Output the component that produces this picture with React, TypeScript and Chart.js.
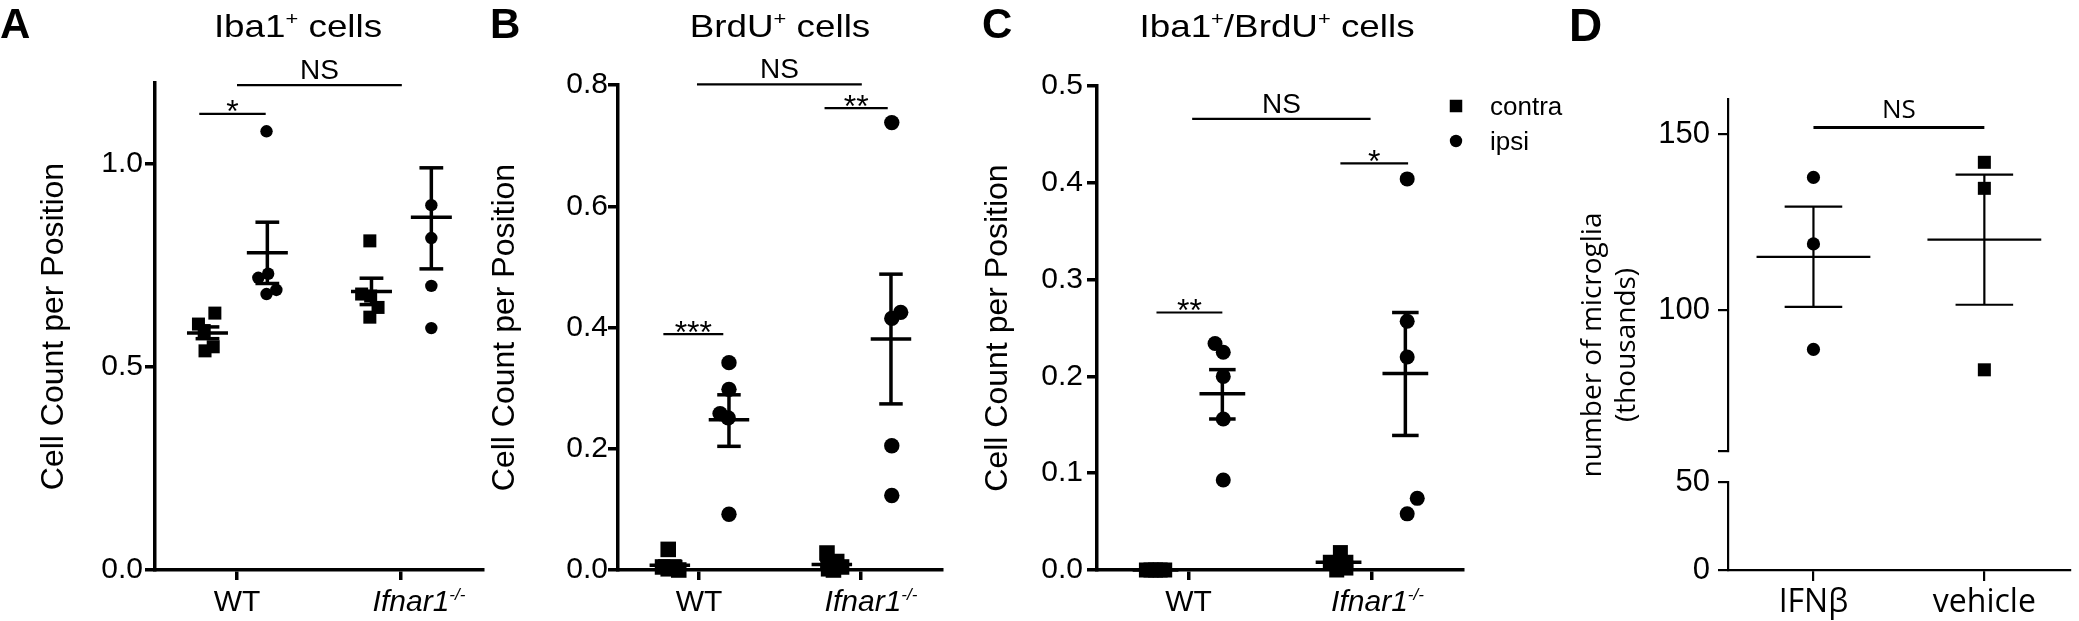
import React, { useEffect, useRef } from 'react';
import { Chart, registerables } from 'chart.js';

Chart.register(...registerables);

const W = 2079;
const H = 621;
const SANS = '"Liberation Sans", Arial, Helvetica, sans-serif';
const OPEN = '"Open Sans", "Noto Sans", sans-serif';

// ---------------- shared categories ----------------
const CAT_POS = [1, 3];
const SIDE_OFFSET = [-0.36, 0.37]; // contra, ipsi
const GROUP_CENTERS = [CAT_POS[0] + SIDE_OFFSET[0], CAT_POS[0] + SIDE_OFFSET[1], CAT_POS[1] + SIDE_OFFSET[0], CAT_POS[1] + SIDE_OFFSET[1]];
const LEGEND_LABELS = ['contra', 'ipsi'];

// ---------------- Panel A: Iba1+ cells ----------------
const A_Y_TICKS = [0, 0.5, 1.0];
const A_WT_CONTRA = [0.633, 0.606, 0.59, 0.55, 0.54];
const A_WT_CONTRA_JIT = [0.09, -0.11, -0.04, 0.07, -0.03];
const A_WT_IPSI = [1.081, 0.72, 0.73, 0.68, 0.69];
const A_WT_IPSI_JIT = [-0.01, -0.11, 0.01, -0.01, 0.11];
const A_KO_CONTRA = [0.811, 0.68, 0.675, 0.647, 0.623];
const A_KO_CONTRA_JIT = [-0.02, -0.12, -0.01, 0.08, -0.02];
const A_KO_IPSI = [0.899, 0.818, 0.7, 0.596];
const A_KO_IPSI_JIT = [0, 0, 0, 0];
const A_MEAN = [0.584, 0.782, 0.686, 0.869];
const A_SEM_HI = [0.599, 0.857, 0.719, 0.991];
const A_SEM_LO = [0.57, 0.706, 0.654, 0.742];
const A_SIG: [number, number, number, string][] = [
  [0.54, 1.35, 1.124, '*'],
  [1.0, 3.01, 1.195, 'NS'],
];

// ---------------- Panel B: BrdU+ cells ----------------
const B_Y_TICKS = [0, 0.2, 0.4, 0.6, 0.8];
const B_WT_CONTRA = [0.034, 0.005, 0.004, 0.002, 0.0];
const B_WT_CONTRA_JIT = [-0.02, -0.09, 0.06, -0.02, 0.11];
const B_WT_IPSI = [0.342, 0.298, 0.258, 0.251, 0.092];
const B_WT_IPSI_JIT = [0, 0, -0.11, -0.01, 0];
const B_KO_CONTRA = [0.028, 0.014, 0.005, 0.002, 0.0];
const B_KO_CONTRA_JIT = [-0.06, 0.06, 0.12, -0.04, 0.02];
const B_KO_IPSI = [0.738, 0.425, 0.415, 0.205, 0.123];
const B_KO_IPSI_JIT = [0.01, 0.12, 0.01, 0.01, 0.01];
const B_MEAN = [0.008, 0.248, 0.009, 0.381];
const B_SEM_HI = [0.015, 0.289, 0.015, 0.488];
const B_SEM_LO = [0.002, 0.204, 0.004, 0.274];
const B_SIG: [number, number, number, string][] = [
  [0.56, 1.3, 0.389, '***'],
  [0.975, 3.01, 0.801, 'NS'],
  [2.55, 3.33, 0.762, '**'],
];

// ---------------- Panel C: Iba1+/BrdU+ cells ----------------
const C_Y_TICKS = [0, 0.1, 0.2, 0.3, 0.4, 0.5];
const C_WT_CONTRA = [0, 0, 0, 0, 0];
const C_WT_CONTRA_JIT = [-0.1, -0.05, 0, 0.05, 0.1];
const C_WT_IPSI = [0.234, 0.225, 0.2, 0.156, 0.093];
const C_WT_IPSI_JIT = [-0.08, 0.01, 0.01, 0.01, 0.01];
const C_KO_CONTRA = [0.018, 0.008, 0.008, 0.002, 0.0];
const C_KO_CONTRA_JIT = [0.02, -0.09, 0.08, 0.08, -0.02];
const C_KO_IPSI = [0.404, 0.257, 0.22, 0.074, 0.058];
const C_KO_IPSI_JIT = [0.02, 0.02, 0.02, 0.13, 0.02];
const C_MEAN = [0, 0.182, 0.008, 0.203];
const C_SEM_HI = [0, 0.207, 0.012, 0.266];
const C_SEM_LO = [0, 0.156, 0.004, 0.139];
const C_SIG: [number, number, number, string][] = [
  [0.65, 1.37, 0.266, '**'],
  [1.04, 2.99, 0.466, 'NS'],
  [2.66, 3.4, 0.42, '*'],
];

// ---------------- Panel D: number of microglia ----------------
const D_CATS = ['IFNβ', 'vehicle'];
const D_TICKS_HI = [60, 100, 150];
const D_TICKS_LO = [0, 50];
const D_IFN = [137.7, 118.8, 88.8];
const D_VEH = [142.0, 134.6, 83.0];
const D_JIT = [0, 0, 0];
const D_MEAN = [115.1, 120.0];
const D_SEM_HI = [129.4, 138.5];
const D_SEM_LO = [100.9, 101.5];
const D_SIG: [number, number, number, string][] = [[1.0, 3.0, 151.9, 'NS']];

// ---------------- drawing helpers ----------------
type Seg = { t: string; it?: boolean; sup?: boolean; bold?: boolean };
type Area = { l: number; r: number; t: number; b: number };

function drawRich(
  ctx: CanvasRenderingContext2D,
  segs: Seg[],
  x: number,
  y: number,
  size: number,
  family: string,
  align: 'left' | 'center' | 'right',
  hs = 1
) {
  const supSize = Math.round(size * 0.58);
  const fontOf = (s: Seg) => `${s.it ? 'italic ' : ''}${s.bold ? 'bold ' : ''}${s.sup ? supSize : size}px ${family}`;
  const widths = segs.map((s) => {
    ctx.font = fontOf(s);
    return ctx.measureText(s.t).width;
  });
  const total = widths.reduce((a, b) => a + b, 0);
  ctx.save();
  ctx.translate(x, y);
  ctx.scale(hs, 1);
  let cx = align === 'center' ? -total / 2 : align === 'right' ? -total : 0;
  ctx.fillStyle = '#000';
  ctx.textAlign = 'left';
  ctx.textBaseline = 'alphabetic';
  segs.forEach((s, i) => {
    ctx.font = fontOf(s);
    ctx.fillText(s.t, cx, s.sup ? -size * 0.38 : 0);
    cx += widths[i];
  });
  ctx.restore();
}

function makeAnnot(o: any) {
  return {
    id: 'annot',
    afterDraw(chart: any) {
      const ctx = chart.ctx as CanvasRenderingContext2D;
      const xs = chart.scales.x;
      const ys = chart.scales[o.yId];
      const area = chart.chartArea;
      ctx.save();
      ctx.fillStyle = '#000';
      ctx.strokeStyle = '#000';
      drawRich(ctx, [{ t: o.letter, bold: true }], o.letterX, o.letterY, o.letterSize, SANS, 'left');
      if (o.title) drawRich(ctx, o.title, o.titleX, o.titleY, o.titleSize, SANS, 'center', o.titleHs);
      o.xLabels.forEach((segs: Seg[], i: number) => {
        drawRich(
          ctx,
          segs,
          xs.getPixelForValue(CAT_POS[i]) + (o.xLabelDx[i] || 0),
          area.bottom + o.xLabelDy,
          o.xLabelSize,
          o.xLabelFamily,
          'center'
        );
      });
      o.sig.forEach((s: [number, number, number, string]) => {
        const [x1, x2, yv, label] = s;
        const p1 = xs.getPixelForValue(x1);
        const p2 = xs.getPixelForValue(x2);
        const py = ys.getPixelForValue(yv);
        ctx.lineWidth = o.sigLw;
        ctx.lineCap = 'butt';
        ctx.beginPath();
        ctx.moveTo(p1, py);
        ctx.lineTo(p2, py);
        ctx.stroke();
        const star = label[0] === '*';
        drawRich(
          ctx,
          [{ t: label }],
          (p1 + p2) / 2,
          star ? py + o.starDy : py - o.nsDy,
          star ? o.starSize : o.nsSize,
          o.sigFamily,
          'center'
        );
      });
      if (o.legend) {
        const L = o.legend;
        LEGEND_LABELS.forEach((lab, i) => {
          const cy = L.y0 + i * L.dy;
          if (i === 0) {
            ctx.fillRect(L.mx - L.sq / 2, cy - L.sq / 2, L.sq, L.sq);
          } else {
            ctx.beginPath();
            ctx.arc(L.mx, cy, L.cr, 0, Math.PI * 2);
            ctx.fill();
          }
          drawRich(ctx, [{ t: lab }], L.tx, cy + L.textDy, L.size, SANS, 'left');
        });
      }
      if (o.yTitleLines) {
        ctx.font = `${o.yTitleSize}px ${o.yTitleFamily}`;
        ctx.textAlign = 'center';
        ctx.textBaseline = 'middle';
        o.yTitleLines.forEach((t: string, i: number) => {
          ctx.save();
          ctx.translate(o.yTitleX[i], o.yTitleY);
          ctx.rotate(-Math.PI / 2);
          ctx.fillText(t, 0, 0);
          ctx.restore();
        });
      }
      ctx.restore();
    },
  };
}

function pointDs(data: { x: number; y: number }[], style: string, r: number, yId: string) {
  return {
    data,
    showLine: false,
    pointStyle: style,
    pointRadius: r,
    pointHoverRadius: r,
    pointBackgroundColor: '#000',
    pointBorderColor: '#000',
    pointBorderWidth: 0,
    clip: false,
    yAxisID: yId,
  };
}

function segDs(x1: number, y1: number, x2: number, y2: number, lw: number, yId: string) {
  return {
    data: [
      { x: x1, y: y1 },
      { x: x2, y: y2 },
    ],
    showLine: true,
    borderColor: '#000',
    borderWidth: lw,
    borderCapStyle: 'butt',
    pointRadius: 0,
    pointHoverRadius: 0,
    clip: false,
    yAxisID: yId,
  };
}

type Series = { vals: number[]; jit: number[]; style: string };

function groupDatasets(
  series: Series[],
  centers: number[],
  means: number[],
  his: number[],
  los: number[],
  rRect: number,
  rCircle: number,
  meanHW: number,
  capHW: number,
  lw: number,
  yId: string
) {
  const ds: any[] = [];
  series.forEach((s, i) => {
    const c = centers[i];
    ds.push(
      pointDs(
        s.vals.map((v, k) => ({ x: c + s.jit[k], y: v })),
        s.style,
        s.style === 'rect' ? rRect : rCircle,
        yId
      )
    );
    ds.push(segDs(c - meanHW, means[i], c + meanHW, means[i], lw, yId));
    ds.push(segDs(c, los[i], c, his[i], lw, yId));
    ds.push(segDs(c - capHW, his[i], c + capHW, his[i], lw, yId));
    ds.push(segDs(c - capHW, los[i], c + capHW, los[i], lw, yId));
  });
  return ds;
}

function xScaleOpts(area: Area, lw: number, tickLen: number) {
  return {
    type: 'linear',
    position: 'bottom',
    min: 0,
    max: 4,
    afterBuildTicks: (s: any) => {
      s.ticks = CAT_POS.map((v) => ({ value: v }));
    },
    afterFit: (s: any) => {
      s.height = H - area.b;
    },
    ticks: { display: false },
    grid: { display: true, drawOnChartArea: false, drawTicks: true, tickLength: tickLen, color: '#000', lineWidth: lw },
    border: { display: true, color: '#000', width: lw },
  };
}

function yScaleOpts(
  area: Area,
  padL: number,
  min: number,
  max: number,
  ticks: number[],
  fmt: (v: number) => string,
  lw: number,
  tickPad: number,
  fontSize: number,
  title: string | null,
  extra: any = {}
) {
  return {
    type: 'linear',
    position: 'left',
    min,
    max,
    afterBuildTicks: (s: any) => {
      s.ticks = ticks.map((v) => ({ value: v }));
    },
    afterFit: (s: any) => {
      s.width = area.l - padL;
    },
    ticks: {
      display: true,
      autoSkip: false,
      padding: tickPad,
      color: '#000',
      font: { family: SANS, size: fontSize },
      callback: (v: any) => fmt(Number(v)),
    },
    grid: { display: true, drawOnChartArea: false, drawTicks: true, tickLength: 10, color: '#000', lineWidth: lw },
    border: { display: true, color: '#000', width: lw },
    title: title
      ? {
          display: true,
          text: title,
          color: '#000',
          font: { family: SANS, size: 32, lineHeight: 1 },
          padding: { top: 0, bottom: 0 },
        }
      : { display: false },
    ...extra,
  };
}

const IFNAR_LABEL: Seg[] = [
  { t: 'Ifnar1', it: true },
  { t: '-/-', it: true, sup: true },
];
const WT_LABEL: Seg[] = [{ t: 'WT' }];

function baseOptions(area: Area, padL: number, scales: any) {
  return {
    responsive: false,
    animation: false,
    events: [],
    layout: { padding: { left: padL, right: W - area.r, top: area.t, bottom: 0 } },
    scales,
    plugins: { legend: { display: false }, tooltip: { enabled: false }, title: { display: false } },
  };
}

type PanelSpec = {
  area: Area;
  yTitleCX: number;
  yMax: number;
  yTicks: number[];
  tickPad: number;
  series: Series[];
  mean: number[];
  hi: number[];
  lo: number[];
  rRect: number;
  rCircle: number;
  sig: [number, number, number, string][];
  letter: string;
  letterX: number;
  title: Seg[];
  titleX: number;
  ifnarDx: number;
  legend?: any;
};

function buildABC(p: PanelSpec) {
  const padL = p.yTitleCX - 16;
  const lw = 3.5;
  const datasets = groupDatasets(p.series, GROUP_CENTERS, p.mean, p.hi, p.lo, p.rRect, p.rCircle, 0.25, 0.145, lw, 'y');
  const options = baseOptions(p.area, padL, {
    x: xScaleOpts(p.area, lw, 10),
    y: yScaleOpts(p.area, padL, 0, p.yMax, p.yTicks, (v) => v.toFixed(1), lw, p.tickPad, 30, 'Cell Count per Position'),
  });
  return {
    type: 'scatter',
    data: { datasets },
    options,
    plugins: [
      makeAnnot({
        yId: 'y',
        letter: p.letter,
        letterX: p.letterX,
        letterY: 38,
        letterSize: 42,
        title: p.title,
        titleX: p.titleX,
        titleY: 37,
        titleSize: 32,
        titleHs: 1.15,
        xLabels: [WT_LABEL, IFNAR_LABEL],
        xLabelDx: [0, p.ifnarDx],
        xLabelDy: 41,
        xLabelSize: 30,
        xLabelFamily: SANS,
        sig: p.sig,
        sigLw: 2.2,
        sigFamily: SANS,
        nsSize: 28,
        nsDy: 6,
        starSize: 32,
        starDy: 8.5,
        legend: p.legend,
      }),
    ],
  };
}

function buildA() {
  return buildABC({
    area: { l: 155, r: 483, t: 83, b: 570 },
    yTitleCX: 54.5,
    yMax: 1.2,
    yTicks: A_Y_TICKS,
    tickPad: 2,
    series: [
      { vals: A_WT_CONTRA, jit: A_WT_CONTRA_JIT, style: 'rect' },
      { vals: A_WT_IPSI, jit: A_WT_IPSI_JIT, style: 'circle' },
      { vals: A_KO_CONTRA, jit: A_KO_CONTRA_JIT, style: 'rect' },
      { vals: A_KO_IPSI, jit: A_KO_IPSI_JIT, style: 'circle' },
    ],
    mean: A_MEAN,
    hi: A_SEM_HI,
    lo: A_SEM_LO,
    rRect: 9.2,
    rCircle: 6.2,
    sig: A_SIG,
    letter: 'A',
    letterX: 0,
    title: [{ t: 'Iba1' }, { t: '+', sup: true }, { t: ' cells' }],
    titleX: 298,
    ifnarDx: 18,
  });
}

function buildB() {
  return buildABC({
    area: { l: 618, r: 942, t: 85, b: 570 },
    yTitleCX: 505,
    yMax: 0.8,
    yTicks: B_Y_TICKS,
    tickPad: 0,
    series: [
      { vals: B_WT_CONTRA, jit: B_WT_CONTRA_JIT, style: 'rect' },
      { vals: B_WT_IPSI, jit: B_WT_IPSI_JIT, style: 'circle' },
      { vals: B_KO_CONTRA, jit: B_KO_CONTRA_JIT, style: 'rect' },
      { vals: B_KO_IPSI, jit: B_KO_IPSI_JIT, style: 'circle' },
    ],
    mean: B_MEAN,
    hi: B_SEM_HI,
    lo: B_SEM_LO,
    rRect: 11,
    rCircle: 7.7,
    sig: B_SIG,
    letter: 'B',
    letterX: 490,
    title: [{ t: 'BrdU' }, { t: '+', sup: true }, { t: ' cells' }],
    titleX: 780,
    ifnarDx: 10,
  });
}

function buildC() {
  return buildABC({
    area: { l: 1097, r: 1463, t: 86, b: 570 },
    yTitleCX: 998.5,
    yMax: 0.5,
    yTicks: C_Y_TICKS,
    tickPad: 4,
    series: [
      { vals: C_WT_CONTRA, jit: C_WT_CONTRA_JIT, style: 'rect' },
      { vals: C_WT_IPSI, jit: C_WT_IPSI_JIT, style: 'circle' },
      { vals: C_KO_CONTRA, jit: C_KO_CONTRA_JIT, style: 'rect' },
      { vals: C_KO_IPSI, jit: C_KO_IPSI_JIT, style: 'circle' },
    ],
    mean: C_MEAN,
    hi: C_SEM_HI,
    lo: C_SEM_LO,
    rRect: 10.6,
    rCircle: 7.5,
    sig: C_SIG,
    letter: 'C',
    letterX: 982,
    title: [{ t: 'Iba1' }, { t: '+', sup: true }, { t: '/BrdU' }, { t: '+', sup: true }, { t: ' cells' }],
    titleX: 1277,
    ifnarDx: 6,
    legend: { mx: 1456, y0: 106, dy: 35, sq: 12.5, cr: 6.2, tx: 1490, textDy: 9, size: 26 },
  });
}

function buildD() {
  const area: Area = { l: 1728, r: 2078, t: 99, b: 570 };
  const padL = 1600;
  const lw = 2.2;
  const datasets = groupDatasets(
    [
      { vals: D_IFN, jit: D_JIT, style: 'circle' },
      { vals: D_VEH, jit: D_JIT, style: 'rect' },
    ],
    CAT_POS,
    D_MEAN,
    D_SEM_HI,
    D_SEM_LO,
    9.2,
    6.6,
    0.666,
    0.337,
    lw,
    'yHi'
  );
  const fmt = (v: number) => (v === 60 ? '' : String(v));
  const options = baseOptions(area, padL, {
    x: xScaleOpts(area, lw, 11),
    yHi: yScaleOpts(area, padL, 60, 160, D_TICKS_HI, fmt, lw, 8, 31, null, { stack: 'd', stackWeight: 351.7, weight: 3 }),
    yGap: {
      type: 'linear',
      position: 'left',
      min: 50,
      max: 60,
      stack: 'd',
      stackWeight: 31.7,
      weight: 2,
      afterBuildTicks: (s: any) => {
        s.ticks = [];
      },
      afterFit: (s: any) => {
        s.width = area.l - padL;
      },
      ticks: { display: false },
      grid: { display: false },
      border: { display: false },
      title: { display: false },
    },
    yLo: yScaleOpts(area, padL, 0, 50, D_TICKS_LO, fmt, lw, 8, 31, null, { stack: 'd', stackWeight: 87.6, weight: 1 }),
  });
  return {
    type: 'scatter',
    data: { datasets },
    options,
    plugins: [
      makeAnnot({
        yId: 'yHi',
        letter: 'D',
        letterX: 1569,
        letterY: 41,
        letterSize: 46,
        title: null,
        xLabels: [[{ t: D_CATS[0] }], [{ t: D_CATS[1] }]],
        xLabelDx: [0, 0],
        xLabelDy: 42,
        xLabelSize: 32,
        xLabelFamily: OPEN,
        sig: D_SIG,
        sigLw: 3,
        sigFamily: OPEN,
        nsSize: 26,
        nsDy: 9,
        starSize: 32,
        starDy: 8.5,
        yTitleLines: ['number of microglia', '(thousands)'],
        yTitleX: [1593, 1627],
        yTitleY: 345,
        yTitleSize: 28,
        yTitleFamily: OPEN,
      }),
    ],
  };
}

function ChartCanvas({ build }: { build: () => any }) {
  const ref = useRef<HTMLCanvasElement | null>(null);
  useEffect(() => {
    if (!ref.current) return;
    const chart = new Chart(ref.current, build());
    return () => chart.destroy();
  }, [build]);
  return (
    <canvas
      ref={ref}
      width={W}
      height={H}
      style={{ position: 'absolute', left: 0, top: 0, width: W + 'px', height: H + 'px' }}
    />
  );
}

export default function App() {
  return (
    <div style={{ position: 'fixed', left: 0, top: 0, width: W, height: H, background: '#fff', overflow: 'hidden' }}>
      <ChartCanvas build={buildA} />
      <ChartCanvas build={buildB} />
      <ChartCanvas build={buildC} />
      <ChartCanvas build={buildD} />
    </div>
  );
}
